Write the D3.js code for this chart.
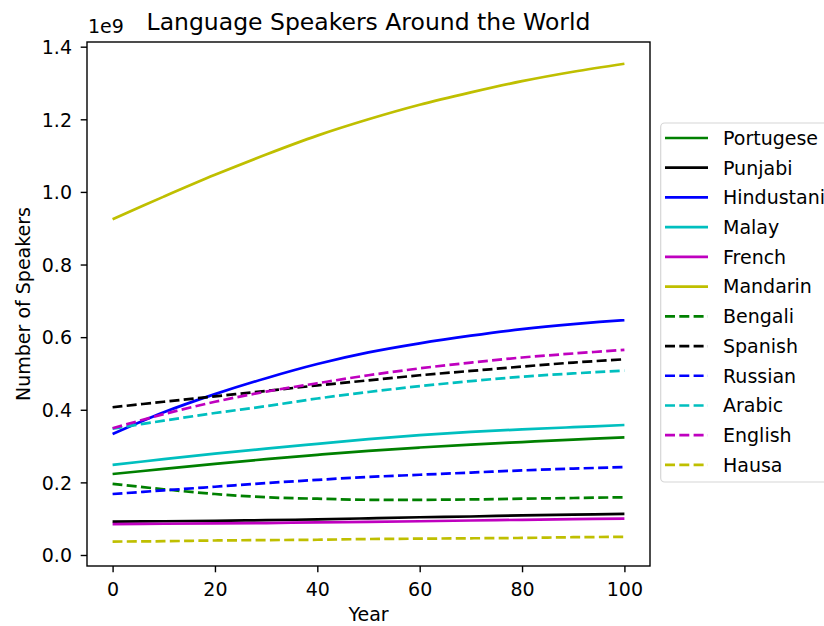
<!DOCTYPE html>
<html><head><meta charset="utf-8">
<script src="https://cdn.jsdelivr.net/npm/d3@7/dist/d3.min.js"></script>
<style>body{margin:0;background:#fff;} svg{display:block;font-family:"DejaVu Sans",sans-serif;}</style>
</head><body>
<svg id="chart" width="824" height="626"></svg>
<script>
const years = [0,10,20,30,40,50,60,70,80,90,100];
const languages = ["Portugese","Punjabi","Hindustani","Malay","French","Mandarin","Bengali","Spanish","Russian","Arabic","English","Hausa"];
const colors = ["#008000","#000000","#0000ff","#00bfbf","#bf00bf","#bfbf00","#008000","#000000","#0000ff","#00bfbf","#bf00bf","#bfbf00"];
const dashed = [false,false,false,false,false,false,true,true,true,true,true,true];
// values in units of 1e9
const portugese  = [0.223,0.237,0.251,0.264,0.276,0.287,0.296,0.304,0.311,0.318,0.324];
const punjabi    = [0.092,0.093,0.094,0.096,0.098,0.101,0.104,0.106,0.109,0.111,0.113];
const hindustani = [0.333,0.393,0.443,0.487,0.526,0.558,0.583,0.604,0.622,0.636,0.647];
const malay      = [0.248,0.264,0.279,0.293,0.306,0.319,0.330,0.339,0.346,0.352,0.358];
const french     = [0.085,0.086,0.087,0.088,0.090,0.091,0.093,0.095,0.097,0.099,0.100];
const mandarin   = [0.925,0.987,1.047,1.103,1.155,1.200,1.240,1.274,1.305,1.331,1.353];
const bengali    = [0.196,0.181,0.168,0.159,0.155,0.152,0.152,0.153,0.155,0.157,0.159];
const spanish    = [0.407,0.422,0.437,0.452,0.467,0.481,0.495,0.507,0.519,0.530,0.539];
const russian    = [0.168,0.178,0.188,0.198,0.207,0.215,0.221,0.227,0.233,0.238,0.242];
const arabic     = [0.348,0.370,0.391,0.410,0.431,0.449,0.465,0.479,0.491,0.500,0.508];
const english    = [0.349,0.388,0.422,0.450,0.473,0.495,0.514,0.530,0.544,0.555,0.565];
const hausa      = [0.037,0.038,0.040,0.041,0.042,0.044,0.045,0.046,0.047,0.049,0.050];
const seriesValues = [portugese,punjabi,hindustani,malay,french,mandarin,bengali,spanish,russian,arabic,english,hausa];
const xTicks = [0,20,40,60,80,100];
const yTicks = [0.0,0.2,0.4,0.6,0.8,1.0,1.2,1.4];

const svg = d3.select("#chart");
const L = 87, R = 650, T = 42, B = 566;
const x = d3.scaleLinear().domain([-5,105]).range([L,R]);
const y = d3.scaleLinear().domain([-0.0303,1.4129]).range([B,T]);
const fs = 19;

// lines
const line = d3.line().x((d,i)=>x(years[i])).y(d=>y(d)).curve(d3.curveCatmullRom.alpha(0.5));
const g = svg.append("g");
seriesValues.forEach((vals,k)=>{
  g.append("path").attr("d",line(vals)).attr("fill","none")
    .attr("stroke",colors[k]).attr("stroke-width",2.7)
    .attr("stroke-dasharray",dashed[k]?"10,4.3":null);
});

// axes
const xAxis = d3.axisBottom(x).tickValues(xTicks).tickSize(6.3).tickPadding(6).tickFormat(d3.format("d"));
const yAxis = d3.axisLeft(y).tickValues(yTicks).tickSize(6.3).tickPadding(6).tickFormat(d3.format(".1f"));
const gx = svg.append("g").attr("transform",`translate(0,${B})`).call(xAxis);
const gy = svg.append("g").attr("transform",`translate(${L},0)`).call(yAxis);
[gx,gy].forEach(a=>{
  a.select(".domain").remove();
  a.selectAll(".tick line").attr("stroke","#000").attr("stroke-width",1.4);
  a.selectAll(".tick text").attr("fill","#000").style("font-size",fs+"px").style("font-family","DejaVu Sans");
});
gx.selectAll(".tick text").attr("dy",null).attr("y",30);
gy.selectAll(".tick text").attr("x",-15).attr("dy","0.36em");
// spines
svg.append("rect").attr("x",L).attr("y",T).attr("width",R-L).attr("height",B-T)
  .attr("fill","none").attr("stroke","#000").attr("stroke-width",1.4);

// texts
svg.append("text").attr("x",(L+R)/2).attr("y",30).attr("text-anchor","middle")
  .style("font-size","23.5px").text("Language Speakers Around the World");
svg.append("text").attr("x",88).attr("y",33).style("font-size",fs+"px").text("1e9");
svg.append("text").attr("x",(L+R)/2).attr("y",621).attr("text-anchor","middle")
  .style("font-size",fs+"px").text("Year");
svg.append("text").attr("transform",`translate(30,${(T+B)/2}) rotate(-90)`)
  .attr("text-anchor","middle").style("font-size",fs+"px").text("Number of Speakers");

// legend
const lg = svg.append("g");
lg.append("rect").attr("x",660.7).attr("y",123).attr("width",220).attr("height",359)
  .attr("rx",4).attr("fill","#fff").attr("stroke","#d6d6d6").attr("stroke-width",1.2);
languages.forEach((name,k)=>{
  const cy = 138 + k*29.72;
  lg.append("line").attr("x1",665).attr("x2",708).attr("y1",cy).attr("y2",cy)
    .attr("stroke",colors[k]).attr("stroke-width",2.7)
    .attr("stroke-dasharray",dashed[k]?"10,4.3":null);
  lg.append("text").attr("x",723).attr("y",cy).attr("dy","0.36em")
    .style("font-size",fs+"px").attr("fill","#000").text(name);
});
</script>
</body></html>
